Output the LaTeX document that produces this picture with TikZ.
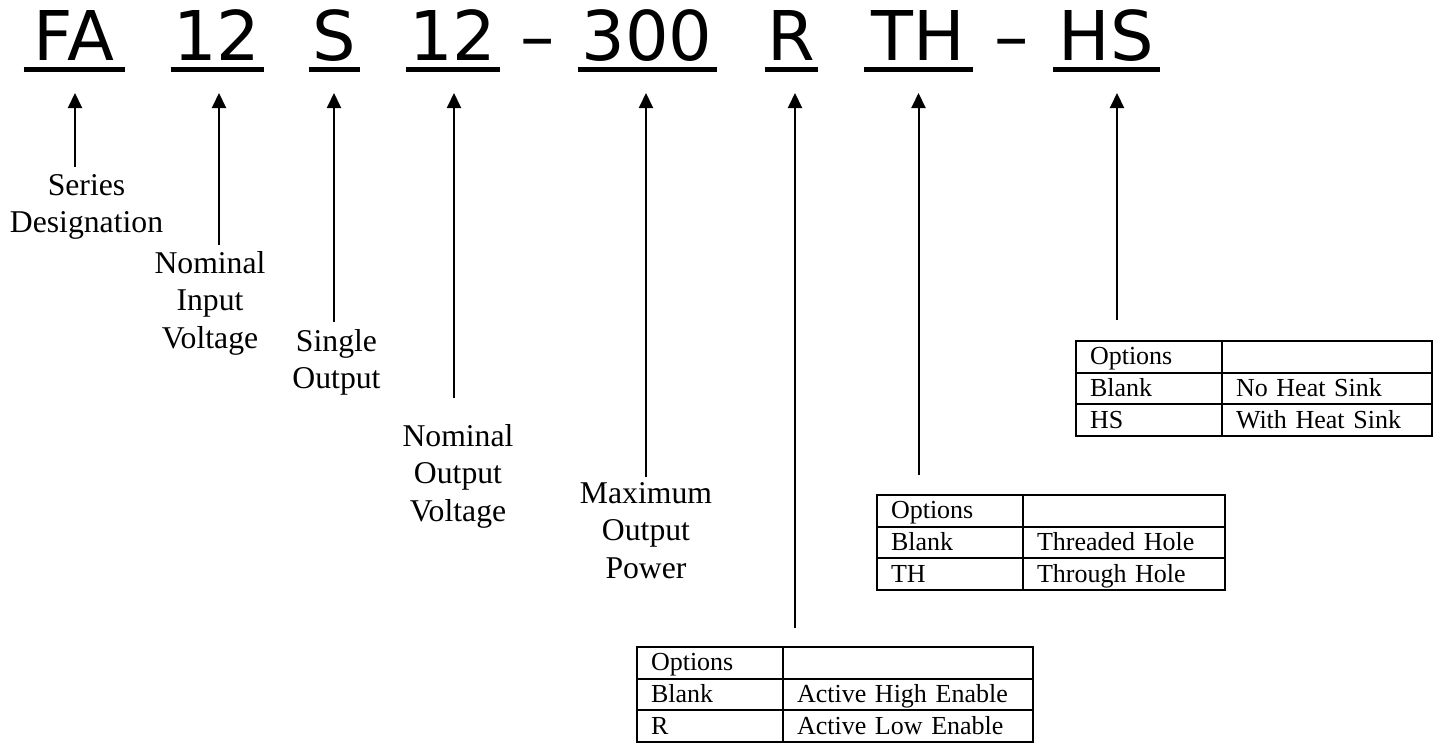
\documentclass[tikz,border=0pt]{standalone}
\usepackage{fontspec}
\setmainfont{Liberation Serif}
\newfontfamily\codefont{DejaVu Sans}
\usetikzlibrary{arrows.meta}

\tikzset{
  codepart/.style={font=\codefont\fontsize{68.6}{80}\selectfont, inner sep=0pt, outer sep=0pt, anchor=base, minimum width=#1},
  uline/.style={line width=5pt},
  arr/.style={line width=2pt, -{Triangle[length=15pt,width=14pt]}},
  lbl/.style={font=\fontsize{31.7}{37.5}\selectfont, align=center, anchor=north, inner sep=0pt},
  cell/.style={draw, line width=2pt, font=\fontsize{26}{30}\selectfont, text width=#1, align=left,
    inner xsep=14pt, inner ysep=0pt, outer sep=0pt, text height=17pt, text depth=1pt, minimum height=31.7pt, anchor=north west}
}

% options table: name, corner, width of 2nd column, blank text, code, code text
\newcommand{\opttable}[6]{%
  \node[cell=118pt] (#1o) at #2 {Options};
  \node[cell=#3] (#1oo) at (#1o.north east) {};
  \node[cell=118pt] (#1b) at (#1o.south west) {Blank};
  \node[cell=#3] (#1bb) at (#1b.north east) {#4};
  \node[cell=118pt] (#1c) at (#1b.south west) {#5};
  \node[cell=#3] (#1cc) at (#1c.north east) {#6};
}

\begin{document}
\begin{tikzpicture}[x=1pt,y=-1pt]
\useasboundingbox (0,0) rectangle (1441,744);

% part number
\node[codepart=101pt] (fa) at (74,60) {FA};
\node[codepart=93pt] (vin) at (217,60) {12};
\node[codepart=51pt] (sgl) at (334,60) {S};
\node[codepart=94pt] (vout) at (453,60) {12};
\node[codepart=0pt] (d1) at (538,60) {–};
\node[codepart=139pt] (pwr) at (647,60) {300};
\node[codepart=53pt] (en) at (791,60) {R};
\node[codepart=109pt] (th) at (918.5,60) {TH};
\node[codepart=0pt] (d2) at (1011.5,60) {–};
\node[codepart=107pt] (hs) at (1106.5,60) {HS};
\foreach \n in {fa,vin,sgl,vout,pwr,en,th,hs}
  \draw[uline] ([yshift=-9.5pt]\n.base west) -- ([yshift=-9.5pt]\n.base east);

% labels
\node[lbl] (lser) at (86.5,174) {Series\\Designation};
\node[lbl] (lvin) at (210,251) {Nominal\\Input\\Voltage};
\node[lbl] (lsgl) at (336.5,329) {Single\\Output};
\node[lbl] (lvout) at (458,424) {Nominal\\Output\\Voltage};
\node[lbl] (lpwr) at (646,482) {Maximum\\Output\\Power};

% tables
\opttable{ent}{(637,647)}{222pt}{Active High Enable}{R}{Active Low Enable}
\opttable{tht}{(877,495)}{174pt}{Threaded Hole}{TH}{Through Hole}
\opttable{hst}{(1076,341)}{182pt}{No Heat Sink}{HS}{With Heat Sink}

% arrows
\foreach \n/\dx/\l/\g in {fa/1/lser/7, vin/2/lvin/6, sgl/0/lsgl/7, vout/1/lvout/26,
    pwr/-1/lpwr/5, en/4/ento/19, th/0/thto/20, hs/10.5/hsto/21}
  \draw[arr, shorten <=\g pt] ([xshift=\dx pt]\n.base |- \l.north) -- ([xshift=\dx pt, yshift=-33pt]\n.base);
\end{tikzpicture}
\end{document}
